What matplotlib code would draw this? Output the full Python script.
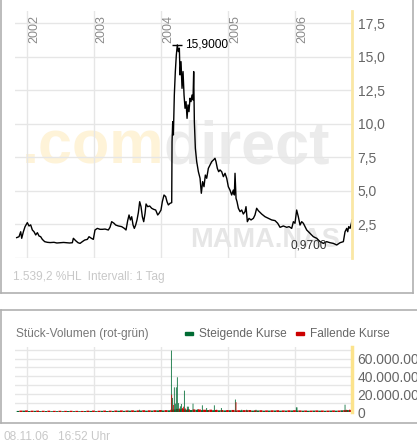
import numpy as np
import matplotlib
matplotlib.use('Agg')
import matplotlib.pyplot as plt
from matplotlib.lines import Line2D
from matplotlib.patches import Rectangle

plt.rcParams['font.family'] = ['Liberation Sans', 'DejaVu Sans']

# price line (decimal year, EUR)
price_dates = [2001.850, 2001.885, 2001.910, 2001.925, 2001.950, 2001.975, 2002.009, 2002.034,
               2002.059, 2002.084, 2002.109, 2002.134, 2002.159, 2002.184, 2002.208, 2002.233,
               2002.268, 2002.308, 2002.350, 2002.407, 2002.450, 2002.507, 2002.550, 2002.606,
               2002.640, 2002.681, 2002.696, 2002.731, 2002.766, 2002.796, 2002.830, 2002.865,
               2002.905, 2002.930, 2002.965, 2002.994, 2003.019, 2003.054, 2003.094, 2003.129,
               2003.169, 2003.218, 2003.243, 2003.268, 2003.303, 2003.328, 2003.368, 2003.417,
               2003.457, 2003.482, 2003.507, 2003.527, 2003.547, 2003.567, 2003.587, 2003.606,
               2003.626, 2003.646, 2003.666, 2003.686, 2003.706, 2003.726, 2003.746, 2003.766,
               2003.781, 2003.806, 2003.835, 2003.865, 2003.895, 2003.925, 2003.955, 2003.975,
               2004.004, 2004.024, 2004.049, 2004.074, 2004.094, 2004.114, 2004.139, 2004.164,
               2004.169, 2004.179, 2004.189, 2004.203, 2004.218, 2004.233, 2004.248, 2004.263,
               2004.278, 2004.288, 2004.303, 2004.318, 2004.333, 2004.348, 2004.363, 2004.378,
               2004.393, 2004.407, 2004.422, 2004.437, 2004.452, 2004.467, 2004.482, 2004.492,
               2004.502, 2004.517, 2004.537, 2004.562, 2004.587, 2004.606, 2004.626, 2004.646,
               2004.666, 2004.686, 2004.711, 2004.736, 2004.761, 2004.786, 2004.810, 2004.825,
               2004.845, 2004.865, 2004.885, 2004.910, 2004.935, 2004.960, 2004.985, 2005.009,
               2005.034, 2005.059, 2005.084, 2005.099, 2005.109, 2005.124, 2005.139, 2005.159,
               2005.184, 2005.209, 2005.233, 2005.258, 2005.273, 2005.293, 2005.318, 2005.348,
               2005.383, 2005.407, 2005.432, 2005.457, 2005.507, 2005.557, 2005.606, 2005.656,
               2005.706, 2005.746, 2005.781, 2005.830, 2005.880, 2005.915, 2005.955, 2005.980,
               2006.004, 2006.029, 2006.054, 2006.079, 2006.104, 2006.129, 2006.154, 2006.179,
               2006.228, 2006.278, 2006.328, 2006.378, 2006.427, 2006.477, 2006.527, 2006.577,
               2006.627, 2006.676, 2006.726, 2006.751, 2006.776, 2006.791, 2006.806, 2006.826,
               2006.846, 2006.855]
price_values = [1.52, 1.59, 1.96, 1.47, 1.96, 2.34, 2.64, 2.39,
                2.47, 2.09, 1.96, 1.72, 1.89, 1.64, 1.59, 1.39,
                1.22, 1.17, 1.15, 1.17, 1.12, 1.14, 1.16, 1.14,
                1.12, 1.14, 1.47, 1.29, 1.14, 1.09, 1.22, 1.34,
                1.39, 1.59, 1.47, 1.39, 2.09, 2.21, 2.14, 2.14,
                2.16, 2.09, 2.29, 2.71, 2.59, 2.46, 2.39, 2.34,
                2.21, 2.09, 2.79, 3.21, 2.84, 3.08, 2.46, 2.21,
                2.46, 2.84, 3.38, 4.20, 3.83, 3.08, 2.71, 3.33,
                4.03, 3.83, 3.88, 3.71, 3.63, 3.58, 3.21, 3.33,
                3.58, 4.20, 4.70, 4.58, 4.20, 3.96, 4.08, 4.13,
                8.68, 10.17, 9.18, 12.16, 13.91, 15.15, 15.90, 15.40,
                15.65, 13.66, 14.65, 12.66, 13.91, 12.16, 11.17, 11.67,
                10.42, 11.42, 10.92, 11.92, 11.67, 12.16, 11.79, 13.91,
                10.17, 8.18, 7.19, 6.44, 5.95, 4.83, 5.70, 5.32,
                6.19, 5.95, 6.69, 6.94, 7.19, 7.31, 7.44, 7.19,
                6.69, 6.44, 6.57, 6.44, 6.07, 6.32, 5.95, 5.32,
                5.07, 4.70, 5.07, 4.70, 6.32, 4.45, 4.20, 3.71,
                3.46, 3.58, 3.28, 3.46, 3.83, 2.71, 2.96, 2.84,
                2.96, 3.21, 3.71, 3.53, 3.28, 3.08, 2.96, 2.84,
                2.79, 2.59, 2.29, 2.39, 2.29, 2.34, 2.21, 2.71,
                2.59, 3.58, 3.08, 2.46, 2.71, 2.59, 2.34, 2.09,
                1.84, 1.59, 1.47, 1.22, 1.09, 1.22, 1.14, 1.09,
                0.97, 1.14, 1.22, 1.96, 2.21, 1.96, 2.34, 2.21,
                2.59, 2.84]

# volume (millions of shares), green = rising day, red = falling day
vol_up_dates = [2003.513, 2003.681, 2004.019, 2004.159, 2004.174, 2004.203, 2004.218, 2004.233,
                2004.248, 2004.263, 2004.293, 2004.308, 2004.353, 2004.397, 2004.412, 2004.482,
                2004.547, 2004.621, 2004.686, 2004.800, 2004.905, 2005.114, 2005.209, 2005.283,
                2005.422, 2006.024, 2006.034, 2006.751]
vol_up = [1.5, 2.5, 1.5, 69, 15.8, 27.7, 9.4, 27.7,
          39, 10, 6.4, 9, 24, 6, 6, 9.4,
          3, 7.5, 4.5, 7.5, 4.5, 14, 2.5, 2.5,
          2.5, 5.2, 5.2, 8.2]
vol_down_dates = [2004.164, 2004.189, 2004.278, 2004.323, 2004.338, 2004.368, 2004.427, 2004.497,
                  2004.562, 2004.636, 2004.711, 2004.835, 2004.999, 2005.124, 2005.288, 2006.776,
                  2006.816]
vol_down = [19.5, 8, 4, 4.5, 6, 4, 2.5, 3,
            3, 2.5, 2, 2.5, 2, 11, 2, 2.5,
            2.5]
# background volume per month (Nov 2001 .. Oct 2006)
base_up = [1.2, 1.5, 1.1, 1.3, 1.0, 1.1, 0.9, 1.0, 0.9, 1.1, 1.0, 0.9,
           1.1, 1.2, 1.0, 1.3, 1.1, 1.2, 1.4, 1.3, 1.5, 1.4, 1.6, 1.5,
           1.6, 1.8, 1.7, 1.9, 2.8, 3.0, 2.6, 2.2, 2.4, 2.1, 2.2, 2.0,
           1.9, 1.8, 2.0, 1.7, 1.8, 1.9, 1.6, 1.7, 1.5, 1.6, 1.7, 1.5,
           1.6, 1.7, 1.6, 1.5, 1.4, 1.6, 1.5, 1.4, 1.6, 1.5, 1.9, 2.2]
base_down = [1.6, 1.8, 1.5, 1.6, 1.4, 1.5, 1.3, 1.4, 1.3, 1.4, 1.3, 1.2,
             1.5, 1.6, 1.4, 1.6, 1.5, 1.7, 1.8, 1.7, 1.9, 1.8, 2.0, 1.9,
             2.0, 2.2, 2.1, 2.5, 3.5, 3.2, 2.9, 2.7, 2.8, 2.5, 2.6, 2.3,
             2.2, 2.1, 2.3, 2.0, 2.1, 2.2, 1.9, 2.0, 1.8, 1.9, 2.0, 1.8,
             1.9, 2.0, 1.8, 1.7, 1.6, 1.8, 1.7, 1.6, 1.8, 1.7, 2.1, 2.4]

years = [2002, 2003, 2004, 2005, 2006]
price_ticks = [0, 2.5, 5.0, 7.5, 10.0, 12.5, 15.0, 17.5]
price_labels = ['', '2,5', '5,0', '7,5', '10,0', '12,5', '15,0', '17,5']
vol_ticks = [0, 10, 20, 30, 40, 50, 60, 70]
vol_labels = ['0', '', '20.000.000', '', '40.000.000', '', '60.000.000', '']

W, H = 417, 443
fig = plt.figure(figsize=(W / 100, H / 100), dpi=100)


def fx(x):
    return x / W


def fy(y):
    return 1 - y / H


GRID = '#E6E6E6'
GREEN = '#006B33'
RED = '#CC0000'
xlim = (2001.825, 2006.855)

# ---- price panel
ax = fig.add_axes([fx(15), fy(258), (352 - 15) / W, (258 - 11) / H])
ax.set_facecolor('none')
ax.plot(price_dates, price_values, color='black', lw=1.0, zorder=3)
ax.set_xlim(xlim)
ax.set_ylim(0, 18.43)
for s in ax.spines.values():
    s.set_visible(False)
ax.set_xticks(years)
ax.set_xticklabels([])
ax.yaxis.tick_right()
ax.set_yticks(price_ticks)
ax.set_yticklabels(price_labels)
ax.tick_params(axis='both', length=0)
ax.tick_params(axis='y', pad=4, labelsize=10, labelcolor='#666666')
ax.grid(True, color=GRID, lw=1.0)
ax.set_axisbelow(True)
ax.axvline(xlim[1], color='#FAE7A5', lw=2.0, zorder=4, clip_on=False)

for yr in years:
    ax.annotate(str(yr), xy=(yr, 1), xycoords=('data', 'axes fraction'),
                xytext=(1, -3), textcoords='offset points', rotation=90,
                ha='left', va='top', fontsize=9, color='#8A8A8A')

imax = int(np.argmax(price_values))
imin = int(np.argmin(price_values))
ax.plot(price_dates[imax], price_values[imax], marker='_', ms=7, mew=1.0, color='black', zorder=4)
ax.annotate('15,9000', xy=(price_dates[imax], price_values[imax]), xytext=(5.5, 0),
            textcoords='offset points', ha='left', va='center', fontsize=8.6, color='black')
ax.annotate('0,9700', xy=(price_dates[imin], price_values[imin]), xytext=(-7, 0),
            textcoords='offset points', ha='right', va='center', fontsize=8.6, color='#333333')

# watermark
ax.text(fx(22), fy(163), '.com', transform=fig.transFigure, fontsize=44, fontweight='bold',
        color='#FEF3D8', va='baseline', ha='left', zorder=0.2)
ax.text(fx(163), fy(163), 'direct', transform=fig.transFigure, fontsize=44, fontweight='bold',
        color='#EBEBEB', va='baseline', ha='left', zorder=0.2)
ax.text(fx(190), fy(247), 'MAMA.NAS', transform=fig.transFigure, fontsize=19.5, fontweight='bold',
        color='#E6E6E6', va='baseline', ha='left', zorder=0.2)

fig.text(fx(13), fy(280), '1.539,2 %HL  Intervall: 1 Tag', fontsize=8.6, color='#C8C8C8', va='baseline')

# ---- volume panel
vax = fig.add_axes([fx(15), fy(412), (352 - 15) / W, (412 - 347) / H])
vax.set_facecolor('none')
base_pos = 2001.85 + np.arange(len(base_up)) / 12
vax.bar(base_pos, base_up, width=1 / 24, align='edge', color=GREEN, lw=0, snap=False, zorder=2)
vax.bar(base_pos + 1 / 24, base_down, width=1 / 24, align='edge', color=RED, lw=0, snap=False, zorder=2)
vax.bar(vol_up_dates, vol_up, width=0.012, color=GREEN, lw=0, snap=False, zorder=3)
vax.bar(vol_down_dates, vol_down, width=0.012, color=RED, lw=0, snap=False, zorder=3)
vax.set_xlim(xlim)
vax.set_ylim(0, 73)
for s in vax.spines.values():
    s.set_visible(False)
vax.set_xticks(years)
vax.set_xticklabels([])
vax.yaxis.tick_right()
vax.set_yticks(vol_ticks)
vax.set_yticklabels(vol_labels)
vax.tick_params(axis='both', length=0)
vax.tick_params(axis='y', pad=4, labelsize=10, labelcolor='#666666')
vax.grid(True, color=GRID, lw=1.0)
vax.set_axisbelow(True)
vax.axvline(xlim[1], color='#FCE38C', lw=2.5, zorder=4, clip_on=False)

fig.text(fx(16), fy(337), 'Stück-Volumen (rot-grün)', fontsize=8.6, color='#777777', va='baseline')
fig.add_artist(Rectangle((fx(185), fy(335)), 8 / W, 3 / H, color=GREEN))
fig.text(fx(199), fy(337), 'Steigende Kurse', fontsize=8.6, color='#666666', va='baseline')
fig.add_artist(Rectangle((fx(296), fy(335)), 8 / W, 3 / H, color=RED))
fig.text(fx(310), fy(337), 'Fallende Kurse', fontsize=8.6, color='#666666', va='baseline')

fig.text(fx(3), fy(440), '08.11.06', fontsize=8.6, color='#C8C8C8', va='baseline')
fig.text(fx(58), fy(440), '16:52 Uhr', fontsize=8.6, color='#C8C8C8', va='baseline')

# panel frames
FRAME = '#B0B0B0'
fig.add_artist(Line2D([fx(0.7), fx(0.7)], [fy(0), fy(293)], color=FRAME, lw=1.2))
fig.add_artist(Line2D([fx(0.7), fx(413)], [fy(293), fy(293)], color=FRAME, lw=1.2))
fig.add_artist(Line2D([fx(413), fx(413)], [fy(0), fy(293)], color=FRAME, lw=1.2))
fig.add_artist(Line2D([fx(0.7), fx(0.7)], [fy(310), fy(423)], color=FRAME, lw=1.2))
fig.add_artist(Line2D([fx(0.7), fx(417)], [fy(310), fy(310)], color=FRAME, lw=1.2))
fig.add_artist(Line2D([fx(0.7), fx(417)], [fy(423), fy(423)], color=FRAME, lw=1.2))

fig.savefig('out.png', dpi=100)
